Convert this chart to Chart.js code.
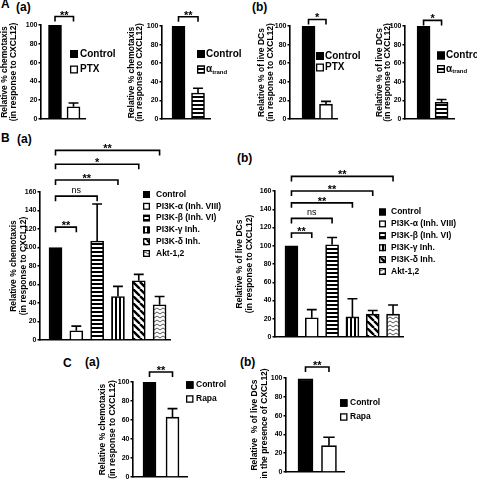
<!DOCTYPE html>
<html><head><meta charset="utf-8">
<script src="https://cdn.jsdelivr.net/npm/chart.js@4/dist/chart.umd.min.js"></script>
<style>
html,body{margin:0;padding:0;background:#fff;overflow:hidden;width:477px;height:480px;}
#wrap{position:relative;width:477px;height:480px;overflow:hidden;}
canvas{position:absolute;}
.lbl{position:absolute;font-family:'Liberation Sans',Arial,sans-serif;font-weight:bold;font-size:12px;line-height:12px;white-space:nowrap;color:#000;}
</style></head><body><div id="wrap">
<div class="lbl" style="left:1px;top:-1.7px">A</div>
<div class="lbl" style="left:16px;top:1.3px">(a)</div>
<div class="lbl" style="left:252px;top:1.3px">(b)</div>
<div class="lbl" style="left:1px;top:131.8px">B</div>
<div class="lbl" style="left:17px;top:133.3px">(a)</div>
<div class="lbl" style="left:237px;top:152.3px">(b)</div>
<div class="lbl" style="left:63px;top:356.8px">C</div>
<div class="lbl" style="left:85px;top:355.8px">(a)</div>
<div class="lbl" style="left:240px;top:355.8px">(b)</div>
</div>
<script>
// ---------- data ----------
const catsPTX = ['Control', 'PTX'];
const catsTrand = ['Control', 'α_trand'];
const chemoPTX = [100, 13];
const chemoPTXErr = [null, 17];
const chemoTrand = [100, 28];
const chemoTrandErr = [null, 33];
const liveDcPTX = [100, 16];
const liveDcPTXErr = [null, 19];
const liveDcTrand = [100, 18];
const liveDcTrandErr = [null, 21];

const catsPI3K = ['Control', 'PI3K-α (Inh. VIII)', 'PI3K-β (Inh. VI)', 'PI3K-γ Inh.', 'PI3K-δ Inh.', 'Akt-1,2'];
const chemoPI3K = [100, 10, 107, 47, 64, 38];
const chemoPI3KErr = [null, 15, 147, 58, 71, 47];
const liveDcPI3K = [100, 21, 101, 22, 25, 25];
const liveDcPI3KErr = [null, 30, 109, 42, 29, 35];

const catsRapa = ['Control', 'Rapa'];
const chemoRapa = [100, 63];
const chemoRapaErr = [null, 72];
const liveDcRapa = [99, 28];
const liveDcRapaErr = [null, 37];

const ticks100 = [0, 20, 40, 60, 80, 100];
const ticks160 = [0, 20, 40, 60, 80, 100, 120, 140, 160];

// significance brackets (control vs. category index, bracket height in axis units)
const sigChemoPTX = [{to: 1, level: 109, label: '**'}];
const sigChemoTrand = [{to: 1, level: 110, label: '**'}];
const sigLivePTX = [{to: 1, level: 107, label: '*'}];
const sigLiveTrand = [{to: 1, level: 106, label: '*'}];
const sigChemoPI3K = [
  {to: 1, level: 122, label: '**'}, {to: 2, level: 155.5, label: 'ns'},
  {to: 3, level: 173, label: '**'}, {to: 4, level: 190, label: '*'},
  {to: 5, level: 205, label: '**'}];
const sigLivePI3K = [
  {to: 1, level: 114, label: '**'}, {to: 2, level: 130, label: 'ns'},
  {to: 3, level: 147, label: '**'}, {to: 4, level: 160, label: '**'},
  {to: 5, level: 176, label: '**'}];
const sigChemoRapa = [{to: 1, level: 110.5, label: '**'}];
const sigLiveRapa = [{to: 1, level: 111.7, label: '**'}];

// ---------- styles ----------
const FF = "'Liberation Sans', Arial, sans-serif";
Chart.defaults.font.family = FF;
Chart.defaults.color = '#000';
function mkPat(kind) {
  const c = document.createElement('canvas');
  let g;
  if (kind === 'h') { c.width = 4; c.height = 4; g = c.getContext('2d'); g.fillStyle = '#fff'; g.fillRect(0,0,4,4); g.fillStyle = '#000'; g.fillRect(0,0,4,2); }
  if (kind === 'v') { c.width = 4; c.height = 4; g = c.getContext('2d'); g.fillStyle = '#fff'; g.fillRect(0,0,4,4); g.fillStyle = '#000'; g.fillRect(0,0,2,4); }
  if (kind === 'd') { c.width = 7; c.height = 7; g = c.getContext('2d'); g.fillStyle = '#fff'; g.fillRect(0,0,7,7); g.strokeStyle = '#000'; g.lineWidth = 2.4;
    g.beginPath(); for (const k of [-7, 0, 7]) { g.moveTo(k, 0); g.lineTo(k + 7, 7); } g.stroke(); }
  if (kind === 'z') { c.width = 6; c.height = 4; g = c.getContext('2d'); g.fillStyle = '#fff'; g.fillRect(0,0,6,4); g.strokeStyle = '#555'; g.lineWidth = 1;
    g.beginPath(); g.moveTo(0, 1); g.lineTo(3, 3); g.lineTo(6, 1); g.stroke(); }
  return c.getContext('2d').createPattern(c, 'repeat');
}
const FILL = {black: '#000', white: '#fff', h: mkPat('h'), v: mkPat('v'), d: mkPat('d'), z: mkPat('z')};

const wrap = document.getElementById('wrap');

function makeChart(o) {
  const lh = o.gap;
  const cl = Math.floor(o.t1 - lh / 2) - 1;
  const tpad = o.t1 - lh / 2 - cl;
  const ct = o.top;
  const cw = o.right - cl;
  const ch = o.y0 + 6 - ct;
  const cv = document.createElement('canvas');
  cv.width = cw; cv.height = ch;
  cv.style.left = cl + 'px'; cv.style.top = ct + 'px';
  cv.style.width = cw + 'px'; cv.style.height = ch + 'px';
  wrap.appendChild(cv);

  const overlay = {
    id: 'overlay',
    afterDraw(chart) {
      const ctx = chart.ctx, xs = chart.scales.x, ys = chart.scales.y;
      ctx.save();
      ctx.strokeStyle = '#000'; ctx.fillStyle = '#000'; ctx.lineWidth = 1.6;
      o.errs.forEach((e, i) => {
        if (e == null) return;
        const x = xs.getPixelForValue(i);
        const y1 = ys.getPixelForValue(o.values[i]);
        const y2 = ys.getPixelForValue(e);
        const hw = o.barW * 0.38;
        ctx.beginPath();
        ctx.moveTo(x, y1); ctx.lineTo(x, y2);
        ctx.moveTo(x - hw, y2); ctx.lineTo(x + hw, y2);
        ctx.stroke();
      });
      o.sig.forEach(b => {
        const x1 = xs.getPixelForValue(0), x2 = xs.getPixelForValue(b.to);
        const y = ys.getPixelForValue(b.level);
        ctx.lineWidth = 1.6;
        ctx.beginPath();
        ctx.moveTo(x1, y + 5); ctx.lineTo(x1, y); ctx.lineTo(x2, y); ctx.lineTo(x2, y + 5);
        ctx.stroke();
        ctx.textAlign = 'center'; ctx.textBaseline = 'alphabetic';
        if (b.label === 'ns') { ctx.font = '9px ' + FF; ctx.fillText('ns', (x1 + x2) / 2, y - 3.5); }
        else { ctx.font = 'bold 11px ' + FF; ctx.fillText(b.label, (x1 + x2) / 2, y + 2); }
      });
      const L = o.legend;
      o.cats.forEach((c, i) => {
        const ry = L.rows[i] - ct, bx = L.box - cl, s = L.boxSize, tx = L.text - cl;
        ctx.fillStyle = FILL[o.fills[i]];
        ctx.fillRect(bx, ry - s / 2, s, s);
        ctx.lineWidth = 1.3; ctx.strokeStyle = '#000';
        ctx.strokeRect(bx + 0.65, ry - s / 2 + 0.65, s - 1.3, s - 1.3);
        ctx.fillStyle = '#000';
        ctx.textAlign = 'left'; ctx.textBaseline = 'middle';
        ctx.font = 'bold ' + L.size + 'px ' + FF;
        if (c.includes('_')) {
          const [m, sub] = c.split('_');
          ctx.fillText(m, tx, ry);
          const w = ctx.measureText(m).width;
          ctx.font = 'bold ' + (L.size * 0.6) + 'px ' + FF;
          ctx.fillText(sub, tx + w, ry + 2.5);
        } else {
          ctx.fillText(c, tx, ry);
        }
      });
      ctx.restore();
    }
  };

  new Chart(cv, {
    type: 'bar',
    data: {
      datasets: [{
        data: o.values.map((v, i) => ({x: i, y: v})),
        backgroundColor: o.fills.map(f => FILL[f]),
        borderColor: '#000',
        borderWidth: 1.6,
        barThickness: o.barW
      }]
    },
    options: {
      responsive: false, animation: false, devicePixelRatio: 1,
      layout: {padding: {left: 0, top: o.yTop - ct, right: cl + cw - o.xEnd, bottom: 6}},
      plugins: {legend: {display: false}, tooltip: {enabled: false}},
      scales: {
        x: {
          type: 'linear', min: o.xmin, max: o.xmax, offset: false,
          ticks: {display: false}, grid: {display: false},
          border: {display: true, color: '#000', width: 1.6},
          afterFit: s => { s.height = 0; }
        },
        y: {
          type: 'linear', min: 0, max: o.ticks[o.ticks.length - 1],
          afterBuildTicks: s => { s.ticks = o.ticks.map(v => ({value: v})); },
          ticks: {font: {size: 7, weight: 'bold'}, color: '#000', padding: 1},
          grid: {drawOnChartArea: false, drawTicks: true, tickLength: 2.5, color: '#000', lineWidth: 1.5},
          border: {display: true, color: '#000', width: 1.6},
          title: {display: true, text: o.title, color: '#000',
                  font: {size: 8.5, weight: 'bold', lineHeight: lh / 8.5},
                  padding: {top: tpad, bottom: 0}},
          afterFit: s => { s.width = o.axisX - cl; }
        }
      }
    },
    plugins: [overlay]
  });
}

const tChemo = ['Relative % chemotaxis', '(in response to CXCL12)'];
const tLive = ['Relative % of live DCs', '(in response to CXCL12)'];
const fills2w = ['black', 'white'];
const fills2h = ['black', 'h'];
const fills6 = ['black', 'white', 'h', 'v', 'd', 'z'];
const legA = {size: 10, boxSize: 8};
const legB = {size: 8.5, boxSize: 7};

// A (a)
makeChart({title: tChemo, t1: 5, gap: 9, axisX: 41, xEnd: 85, yTop: 25, y0: 119, top: 0, right: 125,
  ticks: ticks100, xmin: -0.757, xmax: 1.622, barW: 13, cats: catsPTX, values: chemoPTX, errs: chemoPTXErr,
  fills: fills2w, sig: sigChemoPTX, legend: Object.assign({box: 70, text: 80, rows: [54, 69.5]}, legA)});
makeChart({title: tChemo, t1: 132, gap: 8, axisX: 162, xEnd: 210, yTop: 26, y0: 119, top: 0, right: 250,
  ticks: ticks100, xmin: -0.846, xmax: 1.615, barW: 13, cats: catsTrand, values: chemoTrand, errs: chemoTrandErr,
  fills: fills2h, sig: sigChemoTrand, legend: Object.assign({box: 197, text: 206, rows: [54, 69.5]}, legA)});
// A (b)
makeChart({title: tLive, t1: 262, gap: 9, axisX: 290, xEnd: 337, yTop: 26, y0: 119, top: 0, right: 372,
  ticks: ticks100, xmin: -1.06, xmax: 1.63, barW: 13, cats: catsPTX, values: liveDcPTX, errs: liveDcPTXErr,
  fills: fills2w, sig: sigLivePTX, legend: Object.assign({box: 316, text: 325, rows: [56, 67.5]}, legA)});
makeChart({title: tLive, t1: 380, gap: 8, axisX: 405, xEnd: 454, yTop: 26, y0: 119, top: 0, right: 490,
  ticks: ticks100, xmin: -1.03, xmax: 1.69, barW: 13, cats: catsTrand, values: liveDcTrand, errs: liveDcTrandErr,
  fills: fills2h, sig: sigLiveTrand, legend: Object.assign({box: 437, text: 446, rows: [55.5, 69]}, legA)});
// B
makeChart({title: tChemo, t1: 13.5, gap: 10, axisX: 40, xEnd: 170, yTop: 192, y0: 340, top: 135, right: 232,
  ticks: ticks160, xmin: -0.745, xmax: 5.5, barW: 13, cats: catsPI3K, values: chemoPI3K, errs: chemoPI3KErr,
  fills: fills6, sig: sigChemoPI3K,
  legend: Object.assign({box: 143, text: 156, rows: [194.5, 206.3, 218.1, 229.9, 241.7, 253.5]}, legB)});
makeChart({title: tLive, t1: 240, gap: 10, axisX: 275, xEnd: 403, yTop: 191, y0: 337, top: 160, right: 465,
  ticks: ticks160, xmin: -0.81, xmax: 5.49, barW: 13, cats: catsPI3K, values: liveDcPI3K, errs: liveDcPI3KErr,
  fills: fills6, sig: sigLivePI3K,
  legend: Object.assign({box: 379, text: 391, rows: [212, 223.9, 235.8, 247.7, 259.6, 271.5]}, legB)});
// C
makeChart({title: tChemo, t1: 103, gap: 9.5, axisX: 133, xEnd: 187, yTop: 382, y0: 477, top: 355, right: 245,
  ticks: ticks100, xmin: -0.717, xmax: 1.63, barW: 13, cats: catsRapa, values: chemoRapa, errs: chemoRapaErr,
  fills: fills2w, sig: sigChemoRapa, legend: Object.assign({box: 186, text: 196, rows: [385, 399]}, {size: 8.5, boxSize: 7.5})});
makeChart({title: ['Relative  % of live DCs', '(in the presence of CXCL12)'], t1: 255, gap: 10, axisX: 286, xEnd: 344, yTop: 378, y0: 472, top: 350, right: 400,
  ticks: ticks100, xmin: -0.83, xmax: 1.64, barW: 15, cats: catsRapa, values: liveDcRapa, errs: liveDcRapaErr,
  fills: fills2w, sig: sigLiveRapa, legend: Object.assign({box: 340, text: 350, rows: [403, 417]}, {size: 8.5, boxSize: 7.5})});
</script>
</body></html>
